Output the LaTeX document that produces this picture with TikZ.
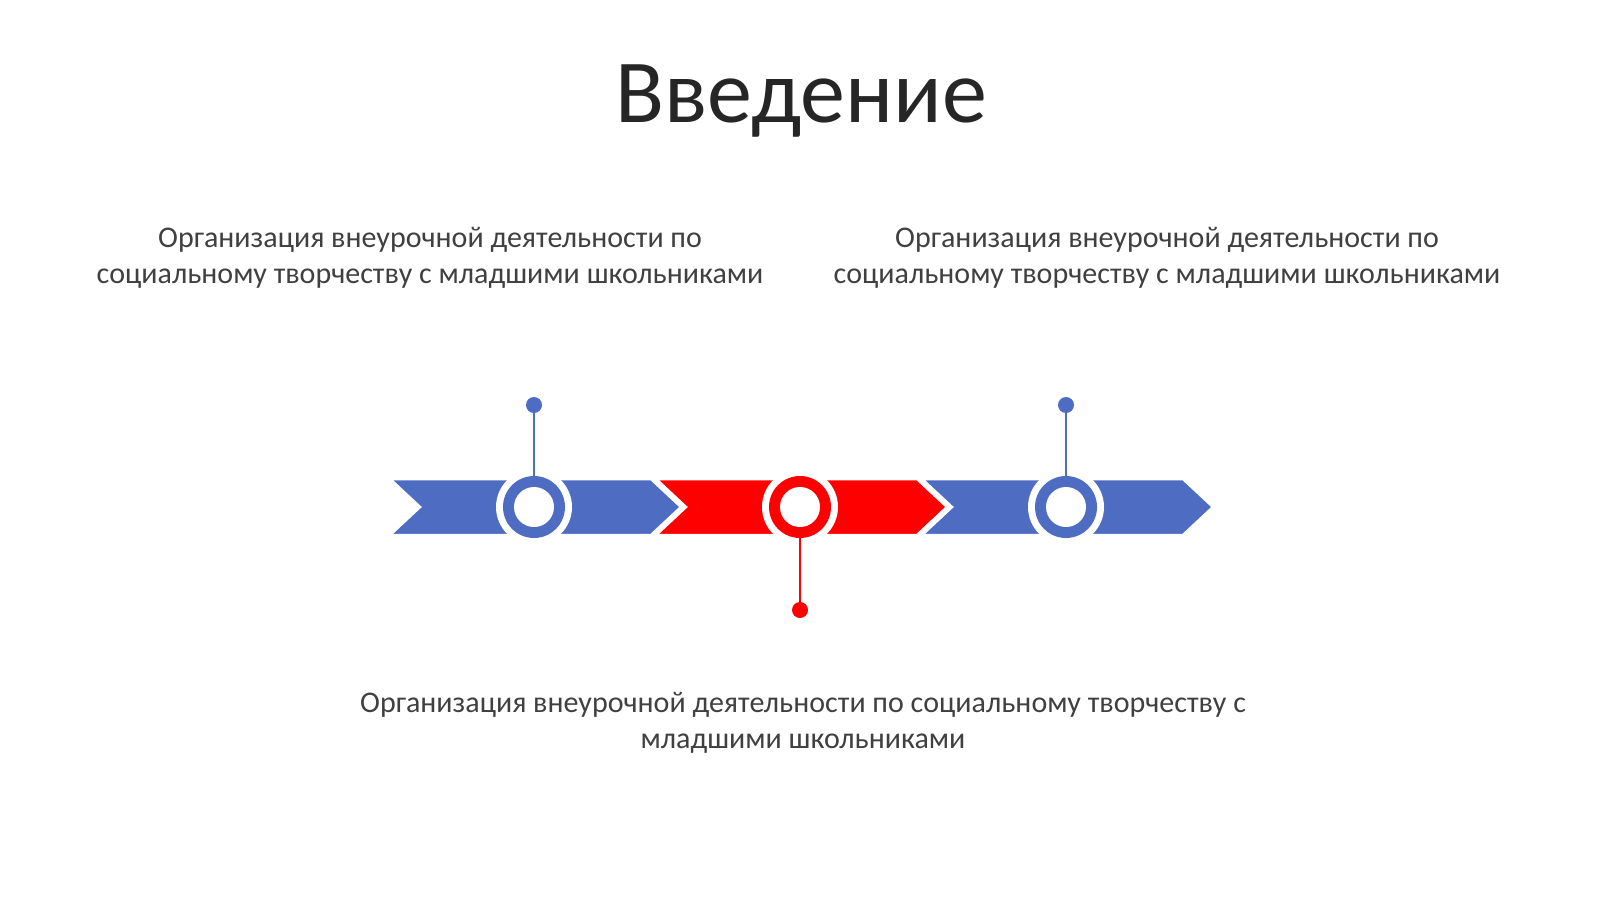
\documentclass[tikz,border=0pt]{standalone}
\usepackage{fontspec}
\setmainfont{Carlito}
\definecolor{tlblue}{RGB}{78,108,194}
\definecolor{tlred}{RGB}{255,0,0}
\definecolor{txtgray}{RGB}{64,64,64}
\definecolor{titlegray}{RGB}{38,38,38}
\tikzset{
  chev/.style={draw=white, line width=2.5pt, line join=miter},
  stem/.style={line width=2.6pt},
  dotnode/.style={circle, inner sep=0pt, minimum size=16pt},
  bodytext/.style={text=txtgray, align=center, font=\fontsize{30}{36.5}\selectfont, inner sep=0pt},
}
\begin{document}
\begin{tikzpicture}[x=1pt,y=-1pt]
\useasboundingbox (0,0) rectangle (1600,899);
\fill[white] (0,0) rectangle (1600,899);

% title
\node[anchor=base, text=titlegray, font=\fontsize{90}{100}\selectfont, inner sep=0pt] (title) at (801,122) {Введение};

% chevrons
\foreach \L/\C [count=\i] in {390/tlblue,656/tlred,922/tlblue}{
  \filldraw[chev, fill=\C] (\L,479) -- ({\L+261},479) -- ({\L+291},507) -- ({\L+261},535) -- (\L,535) -- ({\L+30},507) -- cycle;
}
% circles
\foreach \X/\C/\n in {534/tlblue/c1,800/tlred/c2,1066/tlblue/c3}{
  \fill[white] (\X,507) circle[radius=38];
  \node[circle, fill=\C, minimum size=62pt, inner sep=0pt] (\n) at (\X,507) {};
  \fill[white] (\X,507) circle[radius=20];
}

% dots and stems
\node[dotnode, fill=tlblue] (d1) at (534,405) {};
\node[dotnode, fill=tlred] (d2) at (800,610) {};
\node[dotnode, fill=tlblue] (d3) at (1066,405) {};
\draw[stem, tlblue] (d1.center) -- (c1.north);
\draw[stem, tlred] (c2.south) -- (d2.center);
\draw[stem, tlblue] (d3.center) -- (c3.north);

% texts
\node[bodytext] (t1) at (430,258) {Организация внеурочной деятельности по\\социальному творчеству с младшими школьниками};
\node[bodytext] (t3) at (1167,258) {Организация внеурочной деятельности по\\социальному творчеству с младшими школьниками};
\node[bodytext] (t2) at (803,723) {Организация внеурочной деятельности по социальному творчеству с\\младшими школьниками};
\end{tikzpicture}
\end{document}
